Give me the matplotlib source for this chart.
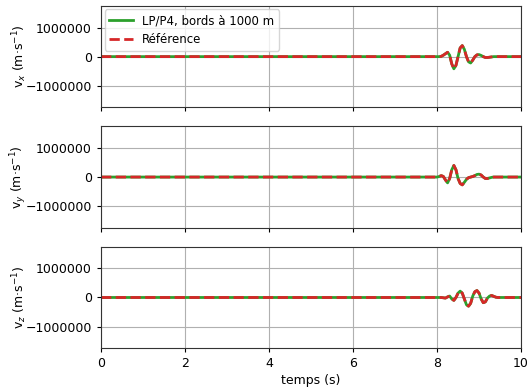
import matplotlib
matplotlib.use("Agg")
import matplotlib.pyplot as plt
from matplotlib.ticker import ScalarFormatter, FixedLocator

plt.rcParams['font.size'] = 9
plt.rcParams['xtick.major.size'] = 3
plt.rcParams['ytick.major.size'] = 3

# time samples (s)
t = [0, 8.0, 8.05, 8.1, 8.15, 8.2, 8.25, 8.3, 8.35, 8.4, 8.45, 8.5, 8.55, 8.6, 8.65,
     8.7, 8.75, 8.8, 8.85, 8.9, 8.95, 9.0, 9.05, 9.1, 9.15, 9.2, 9.25, 9.3, 9.35,
     9.4, 9.45, 10]

# values in units of 1e6 m/s
vx = [0, 0, 0.0, 0.01, 0.05, 0.1, 0.15, 0.05, -0.25, -0.42, -0.3, 0.0, 0.3, 0.38, 0.25,
      0.0, -0.18, -0.22, -0.12, 0.0, 0.06, 0.07, 0.04, 0.0, -0.03, -0.03, -0.02, -0.01, 0.0,
      0.0, 0.0, 0]
vy = [0, 0, 0.02, 0.05, 0.02, -0.1, -0.2, -0.05, 0.25, 0.4, 0.25, -0.05, -0.22, -0.27, -0.18,
      -0.08, -0.02, 0.0, 0.02, 0.05, 0.09, 0.1, 0.07, 0.0, -0.05, -0.05, -0.03, -0.01, 0.0,
      0.0, 0.0, 0]
vz = [0, 0, 0.0, 0.0, -0.01, -0.02, 0.02, 0.05, -0.05, -0.1, 0.0, 0.15, 0.22, 0.15, -0.05,
      -0.25, -0.3, -0.2, 0.05, 0.2, 0.24, 0.15, -0.05, -0.18, -0.15, -0.02, 0.05, 0.07, 0.04,
      0.01, 0.0, 0]

scale = 1e6
labels = [r'v$_x$ (m·s$^{-1}$)', r'v$_y$ (m·s$^{-1}$)', r'v$_z$ (m·s$^{-1}$)']
series = [vx, vy, vz]
yticks = [-1000000, 0, 1000000]

fig, axes = plt.subplots(3, 1, figsize=(5.29, 3.9), dpi=100, sharex=True)
fig.subplots_adjust(left=0.191, right=0.985, top=0.985, bottom=0.107, hspace=0.186)

for ax, s, lab in zip(axes, series, labels):
    vals = [v * scale for v in s]
    ax.plot(t, vals, color='#2ca02c', lw=2, label='LP/P4, bords à 1000 m')
    ax.plot(t, vals, color='#d62728', lw=2, ls=(0, (3.7, 1.6)), label='Référence')
    ax.set_ylim(-1.75e6, 1.75e6)
    ax.set_xlim(0, 10)
    ax.yaxis.set_major_locator(FixedLocator(yticks))
    fmt = ScalarFormatter(useOffset=False)
    fmt.set_scientific(False)
    ax.yaxis.set_major_formatter(fmt)
    ax.set_ylabel(lab)
    ax.yaxis.set_label_coords(-0.172, 0.5)
    ax.grid(True, color='#b0b0b0', lw=0.8)
    for sp in ax.spines.values():
        sp.set_color('#333333')

axes[0].legend(loc='upper left', frameon=True, borderaxespad=0.3, fontsize=8.5)
axes[2].set_xticks([0, 2, 4, 6, 8, 10])
axes[2].set_xlabel('temps (s)', labelpad=3)

fig.savefig('out.png', dpi=100)
